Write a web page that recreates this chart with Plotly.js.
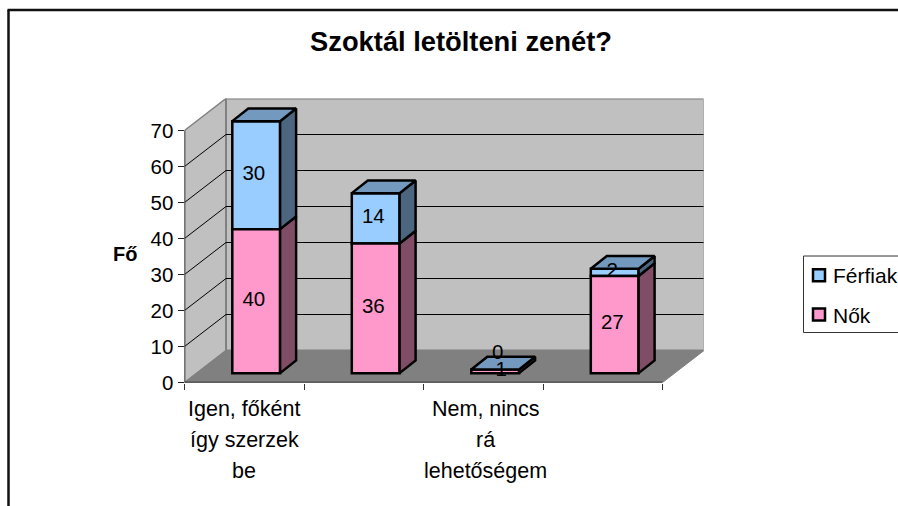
<!DOCTYPE html>
<html><head><meta charset="utf-8">
<script src="https://cdn.plot.ly/plotly-3.0.1.min.js"></script>
<style>html,body{margin:0;padding:0;background:#fff;overflow:hidden}</style>
</head><body><div id="chart" style="width:898px;height:506px"></div>
<script>
const categoryLines = [["Igen, főként","így szerzek","be"],[],["Nem, nincs","rá","lehetőségem"],[]];
const noValues = [40,36,1,27];
const menValues = [30,14,0,2];
const yTicks = [0,10,20,30,40,50,60,70];
const xTicks = [0,1,2,3,4];

const W=898,H=506;
const pxX=119.5, pxY=3.6;
const plotLeft=184.5, plotBottom=382.5, plotRight=703.5, plotTop=98.5;
const wallDx=41.5/pxX, wallDy=32/pxY;
const shiftX=0.1, lift=2.6, barW=0.4, sideDx=16/pxX, sideDy=12.7/pxY;

const centers=noValues.map((_,i)=>i+0.5+shiftX);
const totals=noValues.map((v,i)=>v+menValues[i]);

function sidePoly(lo,hi){
  const xs=[],ys=[];
  centers.forEach((c,i)=>{
    const x=c+barW/2,a=lift+lo[i],b=lift+hi[i];
    xs.push(x,x+sideDx,x+sideDx,x,x,null);
    ys.push(a,a+sideDy,b+sideDy,b,a,null);
  });
  return {xs,ys};
}
function topPoly(h){
  const xs=[],ys=[];
  centers.forEach((c,i)=>{
    const x0=c-barW/2,x1=c+barW/2,y=lift+h[i];
    xs.push(x0,x1,x1+sideDx,x0+sideDx,x0,null);
    ys.push(y,y,y+sideDy,y+sideDy,y,null);
  });
  return {xs,ys};
}
const edge=2.5;
const poly=(p,fill)=>({type:'scatter',mode:'lines',x:p.xs,y:p.ys,fill:'toself',fillcolor:fill,
  line:{color:'#000',width:edge},showlegend:false,hoverinfo:'skip',connectgaps:false});
const bar=(name,vals,bases,color)=>({type:'bar',name,legendgroup:name,x:centers,y:vals,base:bases,width:barW,
  marker:{color,line:{color:'#000',width:edge}},hoverinfo:'skip'});

const zeros=noValues.map(()=>0);
const traces=[
  bar('Férfiak',menValues,noValues.map(v=>lift+v),'#99CCFF'),
  bar('Nők',noValues,noValues.map(()=>lift),'#FF99CC'),
  poly(sidePoly(zeros,noValues),'#804D66'),
  poly(sidePoly(noValues,totals),'#4D6680'),
  poly(topPoly(totals),'#7399BF')
];
// data labels
const lx=[],ly=[],lt=[];
centers.forEach((c,i)=>{
  const nudge=v=>v===0?0.02:(v===1?0.05:-0.02);
  lx.push(c+nudge(noValues[i]));ly.push(lift+noValues[i]/2+0.1);lt.push(String(noValues[i]));
  const extra=menValues[i]===0?4.3:0;
  lx.push(c+nudge(menValues[i]));ly.push(lift+noValues[i]+menValues[i]/2+0.1+extra);lt.push(String(menValues[i]));
});
traces.push({type:'scatter',mode:'text',x:lx,y:ly,text:lt,textposition:'middle center',
  textfont:{family:'Liberation Sans, Arial, sans-serif',size:20.5,color:'#000'},showlegend:false,hoverinfo:'skip',cliponaxis:false});

const shapes=[];
const gray='#808080';
// walls
shapes.push({type:'path',layer:'below',xref:'x',yref:'y',path:`M0,0 L${wallDx},${wallDy} L${wallDx},${70+wallDy} L0,70 Z`,fillcolor:'#C0C0C0',line:{color:gray,width:1.5}});
shapes.push({type:'path',layer:'below',xref:'x',yref:'y',path:`M${wallDx},${wallDy} L${4+wallDx},${wallDy} L${4+wallDx},${70+wallDy} L${wallDx},${70+wallDy} Z`,fillcolor:'#C0C0C0',line:{color:gray,width:2}});
shapes.push({type:'path',layer:'below',xref:'x',yref:'y',path:`M0,0 L${wallDx},${wallDy} L${4+wallDx},${wallDy} L4,0 Z`,fillcolor:'#808080',line:{color:gray,width:1}});
// gridlines on the walls
yTicks.filter(v=>v>0&&v<70).forEach(v=>{
  shapes.push({type:'line',layer:'below',xref:'x',yref:'y',x0:0,y0:v,x1:wallDx,y1:v+wallDy,line:{color:'#000',width:1}});
  shapes.push({type:'line',layer:'below',xref:'x',yref:'y',x0:wallDx,y0:v+wallDy,x1:4+wallDx,y1:v+wallDy,line:{color:'#000',width:1}});
});
// axis lines
shapes.push({type:'line',layer:'below',xref:'x',yref:'y',x0:0,y0:0,x1:4,y1:0,line:{color:'#111',width:1.5}});
shapes.push({type:'line',layer:'below',xref:'x',yref:'y',x0:0,y0:0,x1:0,y1:70,line:{color:'#333',width:1.5}});
// outer frame
shapes.push({type:'line',xref:'paper',yref:'paper',x0:8.5/W,x1:8.5/W,y0:1-10/H,y1:0,line:{color:'#111',width:2.5}});
shapes.push({type:'line',xref:'paper',yref:'paper',x0:7.5/W,x1:1,y0:1-10/H,y1:1-10/H,line:{color:'#111',width:2.5}});
// legend box
shapes.push({type:'rect',xref:'paper',yref:'paper',x0:803.5/W,x1:1.01,y0:1-256/H,y1:1-332.5/H,fillcolor:'#fff',line:{color:'#333',width:1},layer:'below'});

const font={family:'Liberation Sans, Arial, sans-serif',color:'#000'};
const annotations=[];
categoryLines.forEach((lines,i)=>lines.forEach((t,n)=>{
  annotations.push({xref:'x',yref:'y',x:i+0.5+i*0.01,y:0,yanchor:'middle',xanchor:'center',yshift:-(26+n*31),text:t,showarrow:false,font:{...font,size:21.5}});
}));
annotations.push({xref:'paper',yref:'paper',x:124.5/W,y:1-254/H,xanchor:'center',yanchor:'middle',text:'<b>Fő</b>',showarrow:false,font:{...font,size:20}});

const layout={
  width:W,height:H,margin:{l:0,r:0,t:0,b:0,autoexpand:false},paper_bgcolor:'#fff',plot_bgcolor:'rgba(0,0,0,0)',
  title:{text:'<b>Szoktál letölteni zenét?</b>',x:461/W,xanchor:'center',xref:'paper',y:1-41/H,yanchor:'middle',yref:'paper',font:{...font,size:27.3}},
  barmode:'overlay',hovermode:false,
  xaxis:{domain:[plotLeft/W,plotRight/W],range:[0,(plotRight-plotLeft)/pxX],tickmode:'array',tickvals:xTicks,showticklabels:false,ticks:'outside',ticklen:6,tickcolor:'#333',showgrid:false,zeroline:false,showline:false},
  yaxis:{domain:[1-plotBottom/H,1-plotTop/H],range:[0,(plotBottom-plotTop)/pxY],tickmode:'array',tickvals:yTicks,ticks:'outside',ticklen:6,tickcolor:'#222',tickfont:{...font,size:20.5},showgrid:false,zeroline:false,showline:false},
  legend:{x:793/W,xanchor:'left',y:1-295/H,yanchor:'middle',traceorder:'grouped',font:{...font,size:21},bgcolor:'rgba(0,0,0,0)',borderwidth:0,itemclick:false,itemdoubleclick:false,tracegroupgap:9},
  shapes,annotations
};
Plotly.newPlot('chart',traces,layout,{displayModeBar:false,responsive:false}).then(()=>{
  document.querySelectorAll('.legend .legendsymbols').forEach(g=>g.setAttribute('transform','translate(6,0)'));
});
</script></body></html>
